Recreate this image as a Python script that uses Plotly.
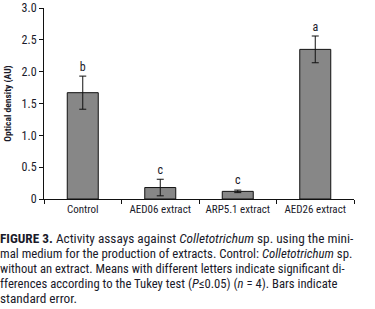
import plotly.graph_objects as go

categories = ["Control", "AED06 extract", "ARP5.1 extract", "AED26 extract"]
values = [1.67, 0.18, 0.12, 2.35]
errors = [0.26, 0.13, 0.02, 0.21]
letters = ["b", "c", "c", "a"]
letter_y = [2.06, 0.44, 0.28, 2.68]
y_ticks = [0, 0.5, 1.0, 1.5, 2.0, 2.5, 3.0]
y_tick_labels = ["0", "0.5", "1.0", "1.5", "2.0", "2.5", "3.0"]
caption_lines = [
    "<b>FIGURE 3.</b> Activity assays against <i>Colletotrichum</i> sp. using the mini-",
    "mal medium for the production of extracts. Control: <i>Colletotrichum</i> sp.",
    "without an extract. Means with different letters indicate significant di-",
    "fferences according to the Tukey test (<i>P</i>≤0.05) (<i>n</i> = 4). Bars indicate",
    "standard error.",
]

FONT = "Liberation Sans Narrow, Arial Narrow, Roboto Condensed, DejaVu Sans Condensed, Liberation Sans, sans-serif"
TXT = "#1a1a2a"

# plot area spans x 44..354, y 8..199
L, T = 44, 8
PW, PH = 310, 191
W, H = 375, 309

fig = go.Figure()
fig.add_trace(go.Bar(
    x=categories, y=values, width=0.4,
    marker=dict(color="#878787", line=dict(color="#111111", width=1)),
    error_y=dict(type="data", array=errors, visible=True, color="#111111",
                 thickness=1, width=3.5),
))
fig.add_trace(go.Scatter(
    x=categories, y=letter_y, mode="text", text=letters,
    textfont=dict(family=FONT, size=12, color=TXT), hoverinfo="skip",
))

line_y = [238, 253, 268, 283, 298]
line_size = [13.3, 12.8, 12.6, 12.7, 13.3]
for txt, ys, sz in zip(caption_lines, line_y, line_size):
    fig.add_annotation(
        text=txt, xref="paper", yref="paper",
        x=(-2 - L) / PW, y=(T + PH - ys) / PH,
        xanchor="left", yanchor="middle", showarrow=False, align="left",
        font=dict(family=FONT, size=sz, color=TXT),
    )

fig.update_layout(
    width=W, height=H,
    margin=dict(l=L, r=W - L - PW, t=T, b=H - T - PH, autoexpand=False),
    paper_bgcolor="white", plot_bgcolor="white",
    showlegend=False,
    font=dict(family=FONT, size=11, color=TXT),
    bargap=0.6,
)
fig.update_xaxes(
    showline=True, linecolor="#111111", linewidth=1,
    ticks="outside", ticklen=4, tickcolor="#111111",
    tickson="boundaries", showgrid=False, automargin=False,
    tickfont=dict(family=FONT, size=11, color=TXT),
)
fig.update_yaxes(
    range=[0, 3.0], tickvals=y_ticks, ticktext=y_tick_labels,
    showline=True, linecolor="#111111", linewidth=1,
    ticks="outside", ticklen=4, tickcolor="#111111", showgrid=False,
    zeroline=False, automargin=False, ticklabeloverflow="allow",
    tickfont=dict(family=FONT, size=12, color=TXT),
    title=dict(text="<b>Optical density (AU)</b>", standoff=8,
               font=dict(family=FONT, size=9.5, color=TXT)),
)

fig.write_html("out.html", config={"displayModeBar": False},
               post_script="document.body.style.margin='0';")
